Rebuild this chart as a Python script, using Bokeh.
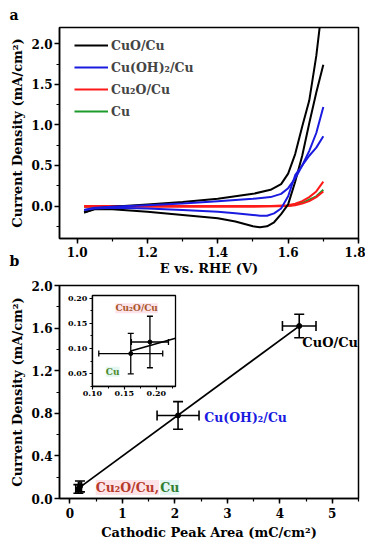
import numpy as np
from bokeh.plotting import figure
from bokeh.layouts import column
from bokeh.models import (Range1d, LinearAxis, SingleIntervalTicker, PrintfTickFormatter,
                          Legend, LegendItem, Label, Whisker, TeeHead, ColumnDataSource, Title)
from bokeh.embed import file_html
from bokeh.resources import INLINE

# ---------------- panel a : CV curves ----------------
cuo_fwd_E = [1.02, 1.05, 1.10, 1.20, 1.30, 1.40, 1.50, 1.55, 1.58, 1.60, 1.62, 1.64, 1.66, 1.68, 1.695]
cuo_fwd_j = [-0.08, -0.03, -0.01, 0.02, 0.05, 0.09, 0.15, 0.20, 0.27, 0.40, 0.64, 0.98, 1.30, 1.85, 2.40]
cuo_rev_E = [1.70, 1.68, 1.66, 1.64, 1.62, 1.60, 1.58, 1.56, 1.54, 1.52, 1.50, 1.45, 1.40, 1.30, 1.20, 1.10, 1.05, 1.02]
cuo_rev_j = [1.74, 1.40, 1.02, 0.62, 0.30, 0.02, -0.10, -0.20, -0.25, -0.26, -0.25, -0.19, -0.15, -0.11, -0.07, -0.04, -0.04, -0.08]

oh_fwd_E = [1.02, 1.05, 1.10, 1.20, 1.30, 1.40, 1.50, 1.55, 1.58, 1.60, 1.62, 1.64, 1.66, 1.68, 1.70]
oh_fwd_j = [-0.05, -0.02, -0.01, 0.01, 0.03, 0.06, 0.09, 0.11, 0.15, 0.22, 0.34, 0.50, 0.68, 0.90, 1.22]
oh_rev_E = [1.70, 1.68, 1.66, 1.64, 1.62, 1.60, 1.58, 1.56, 1.54, 1.52, 1.50, 1.45, 1.40, 1.30, 1.20, 1.10, 1.05, 1.02]
oh_rev_j = [0.86, 0.72, 0.62, 0.50, 0.38, 0.12, -0.03, -0.09, -0.12, -0.12, -0.11, -0.09, -0.07, -0.05, -0.03, -0.02, -0.03, -0.05]

cu2o_fwd_E = [1.02, 1.10, 1.20, 1.30, 1.40, 1.50, 1.55, 1.60, 1.62, 1.64, 1.66, 1.68, 1.70]
cu2o_fwd_j = [0.00, 0.00, 0.00, 0.00, 0.00, 0.00, 0.00, 0.01, 0.03, 0.06, 0.11, 0.18, 0.30]
cu2o_rev_E = [1.70, 1.68, 1.66, 1.64, 1.62, 1.60, 1.50, 1.40, 1.30, 1.20, 1.10, 1.02]
cu2o_rev_j = [0.18, 0.11, 0.06, 0.03, 0.01, 0.00, -0.01, -0.01, -0.01, -0.01, -0.01, -0.01]

cu_E = [1.02, 1.10, 1.20, 1.30, 1.40, 1.50, 1.60, 1.62, 1.64, 1.66, 1.68, 1.70]
cu_j = [-0.01, -0.01, 0.00, 0.00, 0.00, 0.00, 0.00, 0.02, 0.04, 0.08, 0.12, 0.20]

legend_labels = ["CuO/Cu", "Cu(OH)\u2082/Cu", "Cu\u2082O/Cu", "Cu"]

# ---------------- panel b : current density vs peak area ----------------
samples = ["Cu", "Cu\u2082O/Cu", "Cu(OH)\u2082/Cu", "CuO/Cu"]
peak_area = [0.16, 0.19, 2.06, 4.37]
peak_area_err = [0.05, 0.029, 0.40, 0.32]
cur_dens = [0.09, 0.113, 0.78, 1.62]
cur_dens_err = [0.04, 0.051, 0.13, 0.11]

FONT = "DejaVu Serif"
BLACK = "#000000"
BLUE = "#1a1ae0"
RED = "#ff1a1a"
GREEN = "#1c9a2a"


def style(p, xint, yint, xfmt, yfmt, xlabel, ylabel):
    p.grid.visible = False
    p.background_fill_color = "white"
    p.outline_line_color = "black"
    p.outline_line_width = 1.5
    p.outline_line_alpha = 1
    p.xaxis.ticker = SingleIntervalTicker(interval=xint, num_minor_ticks=2)
    p.yaxis.ticker = SingleIntervalTicker(interval=yint, num_minor_ticks=2)
    p.xaxis.formatter = PrintfTickFormatter(format=xfmt)
    p.yaxis.formatter = PrintfTickFormatter(format=yfmt)
    p.xaxis.axis_label = xlabel
    p.yaxis.axis_label = ylabel
    for ax in (p.xaxis[0], p.yaxis[0]):
        ax.axis_line_width = 1.5
        ax.major_tick_out = 5
        ax.major_tick_in = 0
        ax.minor_tick_out = 3
        ax.minor_tick_in = 0
        ax.major_tick_line_width = 1.5
        ax.minor_tick_line_width = 1.2
        ax.major_label_text_font = FONT
        ax.major_label_text_font_style = "bold"
        ax.major_label_text_font_size = "12px"
        ax.major_label_text_color = "black"
        ax.axis_label_text_font = FONT
        ax.axis_label_text_font_style = "bold"
        ax.axis_label_text_font_size = "13px"
        ax.axis_label_text_color = "black"
    p.yaxis.major_label_standoff = 2
    p.yaxis.axis_label_standoff = 4


def panel_letter(text, standoff):
    return Title(text=text, align="left", offset=-50, standoff=standoff, vertical_align="bottom",
                 text_font=FONT, text_font_style="bold", text_font_size="14px", text_color="black")


# ---------------- figure a ----------------
pa = figure(width=365, height=278, x_range=Range1d(0.95, 1.80), y_range=Range1d(-0.40, 2.20),
            output_backend="svg", toolbar_location=None,
            min_border_left=59, min_border_right=7, min_border_top=27, min_border_bottom=38)
pa.border_fill_color = "white"
style(pa, 0.2, 0.5, "%.1f", "%.1f", "E vs. RHE (V)", "Current Density (mA/cm\u00b2)")
pa.xaxis.major_label_standoff = 3
pa.xaxis.axis_label_standoff = 1
pa.add_layout(panel_letter("a", 9), "above")

lw = 2
r_cu = pa.line(cu_E, cu_j, line_color=GREEN, line_width=lw)
r_cu2o = pa.line(cu2o_fwd_E, cu2o_fwd_j, line_color=RED, line_width=lw)
pa.line(cu2o_rev_E, cu2o_rev_j, line_color=RED, line_width=lw)
r_cuo = pa.line(cuo_fwd_E, cuo_fwd_j, line_color=BLACK, line_width=lw)
pa.line(cuo_rev_E, cuo_rev_j, line_color=BLACK, line_width=lw)
r_oh = pa.line(oh_fwd_E, oh_fwd_j, line_color=BLUE, line_width=lw)
pa.line(oh_rev_E, oh_rev_j, line_color=BLUE, line_width=lw)

legend = Legend(items=[LegendItem(label=legend_labels[0], renderers=[r_cuo]),
                       LegendItem(label=legend_labels[1], renderers=[r_oh]),
                       LegendItem(label=legend_labels[2], renderers=[r_cu2o]),
                       LegendItem(label=legend_labels[3], renderers=[r_cu])],
                location=(15, 118), padding=0, margin=0, spacing=4,
                glyph_width=34, glyph_height=18, label_height=18, label_standoff=3,
                label_text_font=FONT, label_text_font_style="bold", label_text_font_size="12.5px",
                border_line_color=None, background_fill_alpha=0)
pa.add_layout(legend)

# ---------------- figure b ----------------
XR = (-0.2, 5.5)
YR = (0.0, 2.0)
PB_TOP = 52
pb = figure(width=365, height=PB_TOP + 213 + 44, x_range=Range1d(*XR), y_range=Range1d(*YR),
            output_backend="svg", toolbar_location=None,
            min_border_left=59, min_border_right=7, min_border_top=PB_TOP, min_border_bottom=44)
pb.margin = (-(PB_TOP - 7), 0, 0, 0)
pb.border_fill_alpha = 0
style(pb, 1, 0.4, "%d", "%.1f", "Cathodic Peak Area (mC/cm\u00b2)", "Current Density (mA/cm\u00b2)")
pb.xaxis.major_label_standoff = 4
pb.xaxis.axis_label_standoff = 4
pb.add_layout(panel_letter("b", 34), "above")

# inset placement (fractions of the frame) and inset data ranges
INSET_FRAC_X = (0.110, 0.388)
INSET_FRAC_Y = (0.526, 0.953)
INSET_X = (0.10, 0.23)
INSET_Y = (0.025, 0.205)


def extra_range(lim, frac):
    span = (lim[1] - lim[0]) / (frac[1] - frac[0])
    start = lim[0] - frac[0] * span
    return Range1d(start, start + span)


pb.extra_x_ranges = {"ix": extra_range(INSET_X, INSET_FRAC_X)}
pb.extra_y_ranges = {"iy": extra_range(INSET_Y, INSET_FRAC_Y)}

# fit line
slope, icpt = np.polyfit(peak_area, cur_dens, 1)
fx = [min(peak_area), max(peak_area)]
pb.line(fx, [slope * v + icpt for v in fx], line_color="black", line_width=1.8)

src = ColumnDataSource(dict(
    x=peak_area, y=cur_dens,
    xl=[a - e for a, e in zip(peak_area, peak_area_err)],
    xu=[a + e for a, e in zip(peak_area, peak_area_err)],
    yl=[a - e for a, e in zip(cur_dens, cur_dens_err)],
    yu=[a + e for a, e in zip(cur_dens, cur_dens_err)]))


def whiskers(p, size, lw_, **rng):
    p.add_layout(Whisker(source=src, base="x", lower="yl", upper="yu", dimension="height",
                         line_width=lw_, line_color="black", level="annotation",
                         upper_head=TeeHead(size=size, line_width=lw_, line_color="black"),
                         lower_head=TeeHead(size=size, line_width=lw_, line_color="black"), **rng))
    p.add_layout(Whisker(source=src, base="y", lower="xl", upper="xu", dimension="width",
                         line_width=lw_, line_color="black", level="annotation",
                         upper_head=TeeHead(size=size, line_width=lw_, line_color="black"),
                         lower_head=TeeHead(size=size, line_width=lw_, line_color="black"), **rng))


whiskers(pb, 10, 1.6)
pb.scatter("x", "y", source=src, size=5, color="black")

# inset box
pb.quad(left=INSET_X[0], right=INSET_X[1], bottom=INSET_Y[0], top=INSET_Y[1],
        x_range_name="ix", y_range_name="iy", fill_color="white", line_color="black", line_width=1.3)
ifx = [min(peak_area), INSET_X[1]]
pb.line(ifx, [slope * v + icpt for v in ifx], x_range_name="ix", y_range_name="iy",
        line_color="black", line_width=1.5)
whiskers(pb, 6, 1.3, x_range_name="ix", y_range_name="iy")
pb.scatter("x", "y", source=src, size=4, color="black", x_range_name="ix", y_range_name="iy")

for dim in ("x", "y"):
    if dim == "x":
        ax = LinearAxis(x_range_name="ix", y_range_name="iy", fixed_location=INSET_Y[0], bounds=INSET_X)
        side = "below"
    else:
        ax = LinearAxis(x_range_name="ix", y_range_name="iy", fixed_location=INSET_X[0], bounds=INSET_Y)
        side = "left"
    ax.ticker = SingleIntervalTicker(interval=0.05, num_minor_ticks=2)
    ax.formatter = PrintfTickFormatter(format="%.2f")
    ax.axis_line_width = 1.3
    ax.major_tick_out = 3
    ax.major_tick_in = 0
    ax.minor_tick_out = 2
    ax.minor_tick_in = 0
    ax.major_tick_line_width = 1.2
    ax.minor_tick_line_width = 1
    ax.major_label_standoff = 2
    ax.major_label_text_font = FONT
    ax.major_label_text_font_style = "bold"
    ax.major_label_text_font_size = "8px"
    ax.major_label_text_color = "black"
    pb.add_layout(ax, side)


# text annotations
def lab(p, x, y, text, color, size, bg=None, **rng):
    kw = dict(x=x, y=y, text=text, text_color=color, text_font=FONT, text_font_style="bold",
              text_font_size=size, text_baseline="middle", text_align="left", **rng)
    if bg:
        kw.update(background_fill_color=bg, background_fill_alpha=1.0)
    p.add_layout(Label(**kw))


lab(pb, 4.43, 1.465, samples[3], "black", "13px")
lab(pb, 2.56, 0.761, samples[2], BLUE, "12.5px")
lab(pb, 0.49, 0.103, samples[1] + ",", "#b83a2c", "12.5px", bg="#fce4e8")
lab(pb, 1.72, 0.103, samples[0], "#2f7f2f", "12.5px", bg="#e3f5f2")
lab(pb, 0.136, 0.180, samples[1], "#a8562a", "9px", bg="#fde4ea", x_range_name="ix", y_range_name="iy")
lab(pb, 0.121, 0.054, samples[0], "#4f8a2a", "9px", bg="#e2f6f2", x_range_name="ix", y_range_name="iy")

layout = column(pa, pb, spacing=0)
open("out.html", "w").write(file_html(layout, INLINE))
